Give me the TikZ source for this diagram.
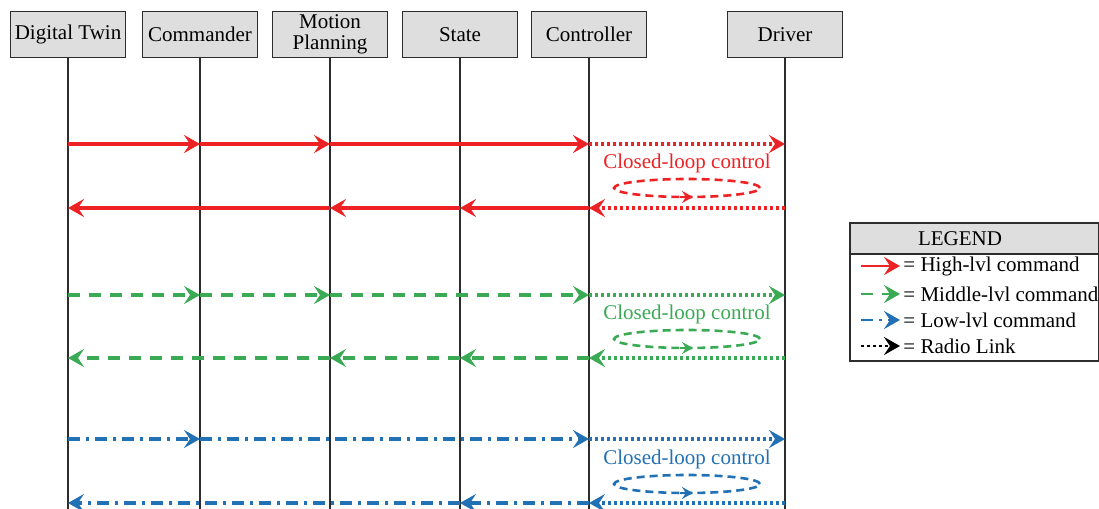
\documentclass[tikz,border=0pt]{standalone}
\usepackage{fontspec}
\setmainfont{Liberation Serif}
\usetikzlibrary{arrows.meta}
\definecolor{cred}{RGB}{237,34,36}
\definecolor{cgreen}{RGB}{58,170,85}
\definecolor{cblue}{RGB}{34,113,181}
\definecolor{boxgray}{RGB}{222,222,222}
\definecolor{lifegray}{RGB}{45,45,45}
\tikzset{
  hdr/.style={draw=lifegray, line width=0.7pt, fill=boxgray, minimum width=57.5pt, minimum height=23pt, inner sep=1pt, font=\fontsize{10.5}{10.5}\selectfont, align=center},
  life/.style={draw=lifegray, line width=0.7pt},
  tip/.style={-{Stealth[length=8pt,width=9pt,inset=3pt]}},
  smalltip/.style={-{Stealth[length=5.5pt,width=6pt,inset=2pt]}},
  hi/.style={cred, line width=1.6pt},
  mid/.style={cgreen, line width=1.6pt, dash pattern=on 6pt off 4.5pt},
  low/.style={cblue, line width=1.6pt, dash pattern=on 6pt off 3pt on 1.5pt off 3pt},
  radio/.style={line width=1.6pt, dash pattern=on 1.5pt off 1.5pt},
  loopline/.style={line width=1.3pt, dash pattern=on 4pt off 2.5pt},
  lbl/.style={font=\fontsize{10.5}{12}\selectfont, inner sep=1pt},
}
\begin{document}
\begin{tikzpicture}[x=0.5pt, y=-0.5pt]
\useasboundingbox (0,0) rectangle (1099,509);
% headers
\node[hdr] (dt) at (68,34.5) {Digital Twin};
\node[hdr] (cm) at (200,34.5) {Commander};
\node[hdr] (mp) at (330,34.5) {Motion\\Planning};
\node[hdr] (st) at (460,34.5) {State};
\node[hdr] (ct) at (589,34.5) {Controller};
\node[hdr] (dr) at (785,34.5) {Driver};
\coordinate (bot) at (0,509);
\foreach \n in {dt,cm,mp,st,ct,dr} \draw[life] (\n) -- (\n |- bot);
% row coordinates
\coordinate (r1) at (0,144);
\coordinate (r2) at (0,208);
\coordinate (g1) at (0,295);
\coordinate (g2) at (0,358);
\coordinate (b1) at (0,439);
\coordinate (b2) at (0,503);
% red
\draw[hi,tip] (dt |- r1) -- (cm |- r1);
\draw[hi,tip] (cm |- r1) -- (mp |- r1);
\draw[hi,tip] (mp |- r1) -- (ct |- r1);
\draw[radio,cred,tip] (ct |- r1) -- (dr |- r1);
\draw[radio,cred,tip] (dr |- r2) -- (ct |- r2);
\draw[hi,tip] (ct |- r2) -- (st |- r2);
\draw[hi,tip] (st |- r2) -- (mp |- r2);
\draw[hi,tip] (mp |- r2) -- (dt |- r2);
\node[lbl, text=cred] (cl1) at (687,163) {Closed-loop control};
\draw[loopline,cred] (687,188) ellipse [x radius=36.5pt, y radius=4.5pt];
\draw[cred, line width=1.3pt, smalltip] (680,197) -- (693,197);
% green
\draw[mid,tip] (dt |- g1) -- (cm |- g1);
\draw[mid,tip] (cm |- g1) -- (mp |- g1);
\draw[mid,tip] (mp |- g1) -- (ct |- g1);
\draw[radio,cgreen,tip] (ct |- g1) -- (dr |- g1);
\draw[radio,cgreen,tip] (dr |- g2) -- (ct |- g2);
\draw[mid,tip] (ct |- g2) -- (st |- g2);
\draw[mid,tip] (st |- g2) -- (mp |- g2);
\draw[mid,tip] (mp |- g2) -- (dt |- g2);
\node[lbl, text=cgreen] (cl2) at (687,314) {Closed-loop control};
\draw[loopline,cgreen] (687,339) ellipse [x radius=36.5pt, y radius=4.5pt];
\draw[cgreen, line width=1.3pt, smalltip] (680,348) -- (693,348);
% blue
\draw[low,tip] (dt |- b1) -- (cm |- b1);
\draw[low,tip] (cm |- b1) -- (ct |- b1);
\draw[radio,cblue,tip] (ct |- b1) -- (dr |- b1);
\draw[radio,cblue,tip] (dr |- b2) -- (ct |- b2);
\draw[low,tip] (ct |- b2) -- (st |- b2);
\draw[low,tip] (st |- b2) -- (dt |- b2);
\node[lbl, text=cblue] (cl3) at (687,459) {Closed-loop control};
\draw[loopline,cblue] (687,484) ellipse [x radius=36.5pt, y radius=4.5pt];
\draw[cblue, line width=1.3pt, smalltip] (680,493) -- (693,493);
% legend
\draw[lifegray, line width=0.7pt, fill=boxgray] (850,223) rectangle (1098.3,254);
\draw[lifegray, line width=0.7pt] (850,254) rectangle (1098.3,361);
\node[lbl] (legt) at (960,239) {LEGEND};
\coordinate (la1) at (861,266); \coordinate (lb1) at (900,266);
\coordinate (la2) at (861,294); \coordinate (lb2) at (900,294);
\coordinate (la3) at (861,320); \coordinate (lb3) at (900,320);
\coordinate (la4) at (861,346); \coordinate (lb4) at (900,346);
\draw[hi,line width=1.3pt,tip] (la1) -- (lb1);
\draw[mid,line width=1.3pt,tip] (la2) -- (lb2);
\draw[low,line width=1.3pt,tip] (la3) -- (lb3);
\draw[radio,line width=1.3pt,black,tip] (la4) -- (lb4);
\node[lbl, anchor=west] (l1) at (901,266) {= High-lvl command};
\node[lbl, anchor=west] (l2) at (901,294) {= Middle-lvl command};
\node[lbl, anchor=west] (l3) at (901,320) {= Low-lvl command};
\node[lbl, anchor=west] (l4) at (901,346) {= Radio Link};
\end{tikzpicture}
\end{document}
